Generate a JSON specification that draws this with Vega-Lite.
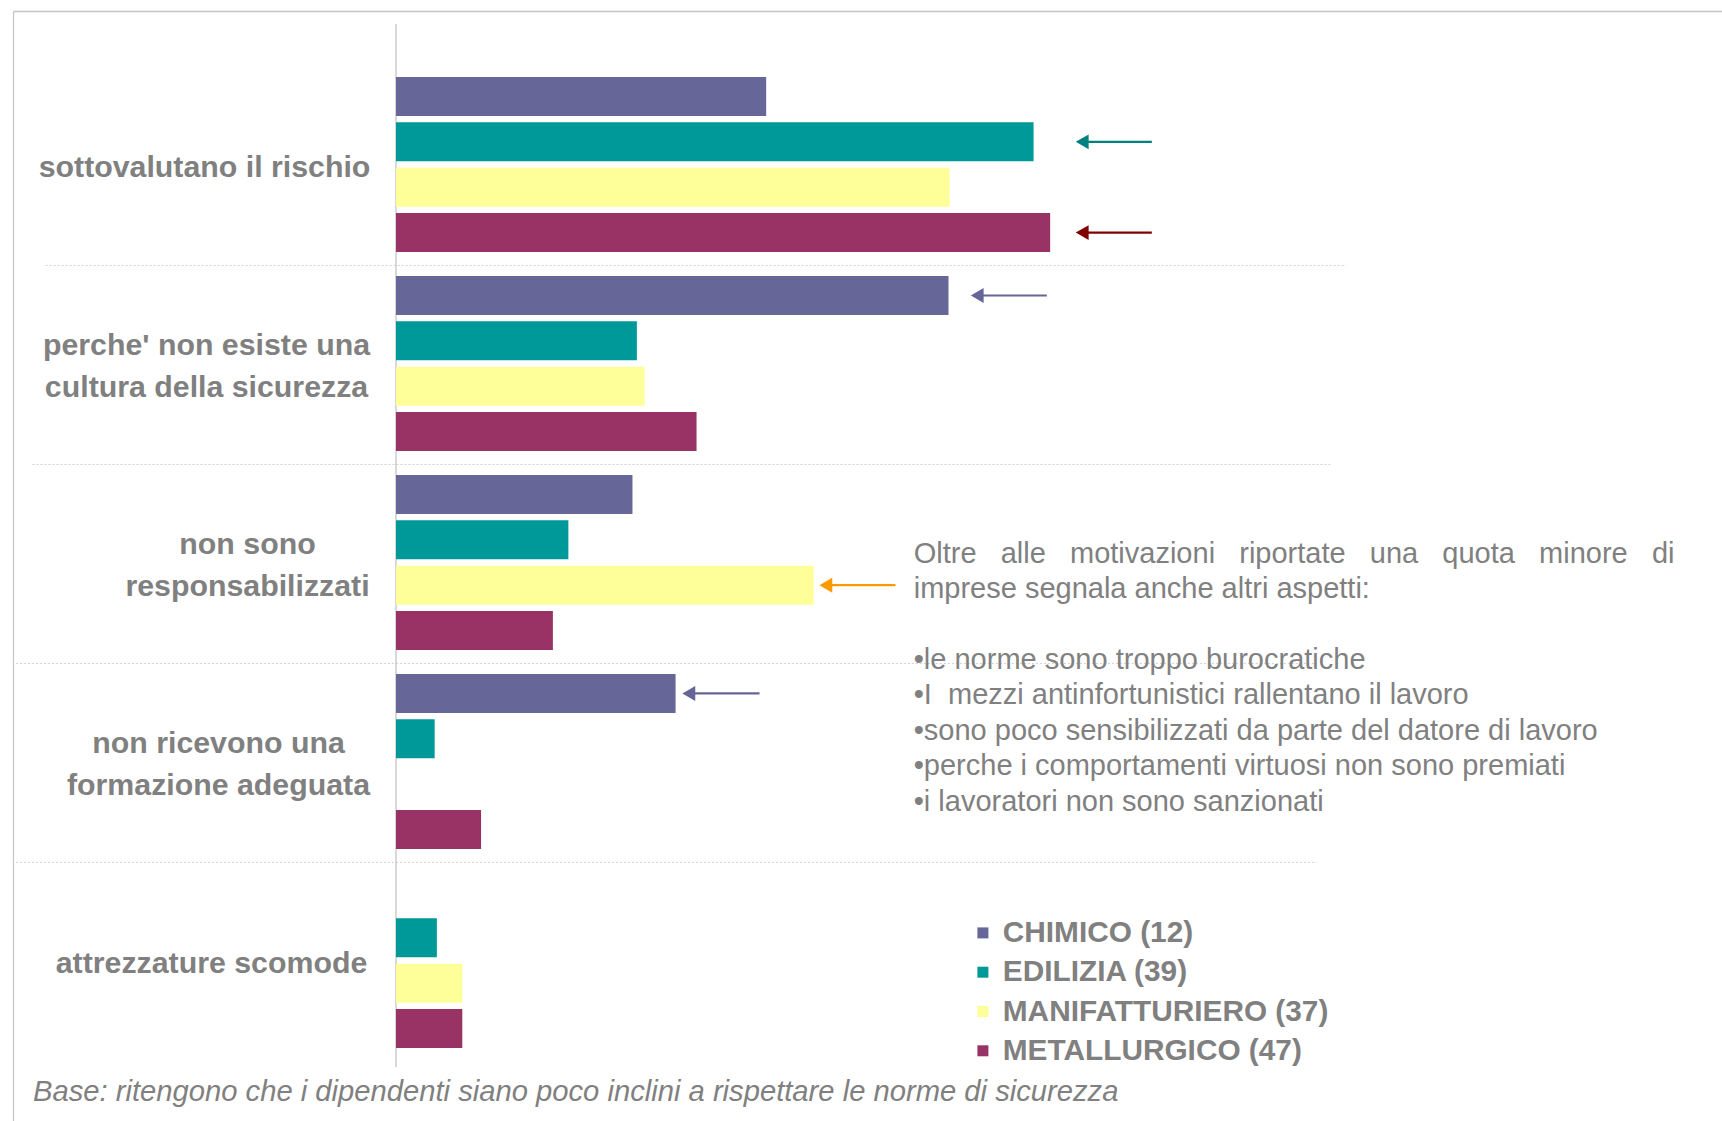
{
  "$schema": "https://vega.github.io/schema/vega-lite/v6.json",
  "width": 1709,
  "height": 1110,
  "autosize": {"type": "none"},
  "padding": {"left": 13, "top": 11, "right": 0, "bottom": 0},
  "background": "white",
  "config": {
    "view": {"stroke": null},
    "font": "Liberation Sans",
    "axisX": {"labels": false, "ticks": false, "grid": false, "domain": true, "domainColor": "#c4c4c4", "domainWidth": 1.5},
    "axisY": {"ticks": false, "tickSize": 0, "grid": false, "domain": true, "domainColor": "#c4c4c4", "domainWidth": 1.2,
      "labelFont": "Liberation Sans", "labelFontSize": 30.3, "labelFontWeight": "bold", "labelColor": "#808080",
      "labelLimit": 600, "labelLineHeight": 42, "labelAlign": "center", "labelBaseline": "middle"}
  },
  "datasets": {
    "barre": [
      {"motivo": "sottovalutano il rischio", "settore": "CHIMICO (12)", "valore": 33.5},
      {"motivo": "sottovalutano il rischio", "settore": "EDILIZIA (39)", "valore": 57.7},
      {"motivo": "sottovalutano il rischio", "settore": "MANIFATTURIERO (37)", "valore": 50.1},
      {"motivo": "sottovalutano il rischio", "settore": "METALLURGICO (47)", "valore": 59.2},
      {"motivo": "perche' non esiste una\ncultura della sicurezza", "settore": "CHIMICO (12)", "valore": 50.0},
      {"motivo": "perche' non esiste una\ncultura della sicurezza", "settore": "EDILIZIA (39)", "valore": 21.8},
      {"motivo": "perche' non esiste una\ncultura della sicurezza", "settore": "MANIFATTURIERO (37)", "valore": 22.5},
      {"motivo": "perche' non esiste una\ncultura della sicurezza", "settore": "METALLURGICO (47)", "valore": 27.2},
      {"motivo": "non sono\nresponsabilizzati", "settore": "CHIMICO (12)", "valore": 21.4},
      {"motivo": "non sono\nresponsabilizzati", "settore": "EDILIZIA (39)", "valore": 15.6},
      {"motivo": "non sono\nresponsabilizzati", "settore": "MANIFATTURIERO (37)", "valore": 37.8},
      {"motivo": "non sono\nresponsabilizzati", "settore": "METALLURGICO (47)", "valore": 14.2},
      {"motivo": "non ricevono una\nformazione adeguata", "settore": "CHIMICO (12)", "valore": 25.3},
      {"motivo": "non ricevono una\nformazione adeguata", "settore": "EDILIZIA (39)", "valore": 3.5},
      {"motivo": "non ricevono una\nformazione adeguata", "settore": "METALLURGICO (47)", "valore": 7.7},
      {"motivo": "attrezzature scomode", "settore": "EDILIZIA (39)", "valore": 3.7},
      {"motivo": "attrezzature scomode", "settore": "MANIFATTURIERO (37)", "valore": 6.0},
      {"motivo": "attrezzature scomode", "settore": "METALLURGICO (47)", "valore": 6.0}
    ],
    "separatori": [
      {"motivo": "perche' non esiste una\ncultura della sicurezza", "da": -31.7, "a": 86.0},
      {"motivo": "non sono\nresponsabilizzati", "da": -32.9, "a": 84.6},
      {"motivo": "non ricevono una\nformazione adeguata", "da": -34.4, "a": 83.3},
      {"motivo": "attrezzature scomode", "da": -34.4, "a": 83.3}
    ],
    "frecce": [
      {"motivo": "sottovalutano il rischio", "settore": "EDILIZIA (39)", "punta": 62.1, "coda": 68.4},
      {"motivo": "sottovalutano il rischio", "settore": "METALLURGICO (47)", "punta": 62.1, "coda": 68.4},
      {"motivo": "perche' non esiste una\ncultura della sicurezza", "settore": "CHIMICO (12)", "punta": 52.6, "coda": 58.9},
      {"motivo": "non sono\nresponsabilizzati", "settore": "MANIFATTURIERO (37)", "punta": 38.9, "coda": 45.2},
      {"motivo": "non ricevono una\nformazione adeguata", "settore": "CHIMICO (12)", "punta": 26.5, "coda": 32.9}
    ],
    "intro": [
      {"testo": "Oltre \u00a0\u00a0alle \u00a0\u00a0motivazioni \u00a0\u00a0riportate \u00a0\u00a0una \u00a0\u00a0quota \u00a0\u00a0minore \u00a0\u00a0di\nimprese segnala anche altri aspetti:"}
    ],
    "elenco": [
      {"testo": "•le norme sono troppo burocratiche\n•I\u00a0 mezzi antinfortunistici rallentano il lavoro\n•sono poco sensibilizzati da parte del datore di lavoro\n•perche i comportamenti virtuosi non sono premiati\n•i lavoratori non sono sanzionati"}
    ],
    "base": [
      {"testo": "Base: ritengono che i dipendenti siano poco inclini a rispettare le norme di sicurezza"}
    ]
  },
  "layer": [
    {
      "data": {"name": "separatori"},
      "mark": {"type": "rule", "color": "#d2d2d2", "strokeWidth": 1, "strokeDash": [2, 2]},
      "encoding": {
        "y": {"field": "motivo", "type": "nominal", "bandPosition": -0.06, "title": null},
        "x": {"field": "da", "type": "quantitative", "title": null},
        "x2": {"field": "a"}
      }
    },
    {
      "data": {"values": [{}]},
      "mark": {"type": "rule", "color": "#bfbfbf", "strokeWidth": 1.2},
      "encoding": {
        "x": {"datum": 0, "type": "quantitative", "title": null},
        "y": {"datum": "sottovalutano il rischio", "type": "nominal", "bandPosition": -0.303, "title": null},
        "y2": {"datum": "attrezzature scomode", "bandPosition": 1.109}
      }
    },
    {
      "data": {"name": "barre"},
      "mark": {"type": "bar", "opacity": 1},
      "encoding": {
        "y": {
          "field": "motivo", "type": "nominal", "title": null,
          "scale": {
            "domain": ["sottovalutano il rischio", "perche' non esiste una\ncultura della sicurezza", "non sono\nresponsabilizzati", "non ricevono una\nformazione adeguata", "attrezzature scomode"],
            "paddingInner": 0.12, "paddingOuter": 0.349, "align": 0.475
          },
          "axis": {
            "orient": "left",
            "labelExpr": "split(datum.label, '\\n')",
            "labelOffset": {"expr": "(datum.value == 'sottovalutano il rischio' || datum.value == 'attrezzature scomode') ? 3 : -18"},
            "labelPadding": {"expr": "datum.value == 'non sono\\nresponsabilizzati' ? -234 : datum.value == 'non ricevono una\\nformazione adeguata' ? -205 : datum.value == 'attrezzature scomode' ? -198 : datum.value == 'sottovalutano il rischio' ? -191 : -193"}
          }
        },
        "yOffset": {
          "field": "settore", "type": "nominal",
          "scale": {"domain": ["CHIMICO (12)", "EDILIZIA (39)", "MANIFATTURIERO (37)", "METALLURGICO (47)"], "paddingInner": 0.14, "paddingOuter": 0}
        },
        "x": {
          "field": "valore", "type": "quantitative", "title": null,
          "scale": {"domain": [-34.66, 120], "nice": false, "zero": false},
          "axis": {"orient": "top"}
        },
        "color": {
          "field": "settore", "type": "nominal",
          "scale": {"domain": ["CHIMICO (12)", "EDILIZIA (39)", "MANIFATTURIERO (37)", "METALLURGICO (47)"], "range": ["#666699", "#009999", "#FFFF99", "#993366"]},
          "legend": {
            "title": null, "orient": "none", "legendX": 955, "legendY": 907, "padding": 0,
            "symbolType": "square", "symbolSize": 121, "symbolStrokeWidth": 0, "symbolOpacity": 1,
            "labelFont": "Liberation Sans", "labelFontSize": 29.8, "labelFontWeight": "bold", "labelColor": "#808080",
            "labelOffset": 5, "rowPadding": 8.3, "labelLimit": 600
          }
        }
      }
    },
    {
      "data": {"name": "frecce"},
      "mark": {"type": "rule", "strokeWidth": 2.2},
      "encoding": {
        "y": {"field": "motivo", "type": "nominal", "title": null},
        "yOffset": {"field": "settore", "type": "nominal"},
        "x": {"field": "punta", "type": "quantitative", "title": null},
        "x2": {"field": "coda"},
        "color": {
          "field": "settore", "type": "nominal", "legend": null,
          "scale": {"domain": ["CHIMICO (12)", "EDILIZIA (39)", "MANIFATTURIERO (37)", "METALLURGICO (47)"], "range": ["#666699", "#008080", "#FF9900", "#800000"]}
        }
      }
    },
    {
      "data": {"name": "frecce"},
      "mark": {"type": "point", "shape": "triangle-left", "filled": true, "size": 220, "opacity": 1, "strokeWidth": 0},
      "encoding": {
        "y": {"field": "motivo", "type": "nominal", "title": null},
        "yOffset": {"field": "settore", "type": "nominal"},
        "x": {"field": "punta", "type": "quantitative", "title": null},
        "color": {
          "field": "settore", "type": "nominal", "legend": null,
          "scale": {"domain": ["CHIMICO (12)", "EDILIZIA (39)", "MANIFATTURIERO (37)", "METALLURGICO (47)"], "range": ["#666699", "#008080", "#FF9900", "#800000"]}
        }
      }
    },
    {
      "data": {"name": "intro"},
      "mark": {"type": "text", "align": "left", "baseline": "alphabetic", "lineBreak": "\n", "lineHeight": 35.5, "fontSize": 29, "font": "Liberation Sans", "color": "#808080", "dy": 0},
      "encoding": {
        "text": {"field": "testo"},
        "x": {"datum": 46.85, "type": "quantitative", "title": null},
        "y": {"datum": "non sono\nresponsabilizzati", "type": "nominal", "title": null}
      }
    },
    {
      "data": {"name": "elenco"},
      "mark": {"type": "text", "align": "left", "baseline": "alphabetic", "lineBreak": "\n", "lineHeight": 35.5, "fontSize": 29, "font": "Liberation Sans", "color": "#808080", "dy": 106},
      "encoding": {
        "text": {"field": "testo"},
        "x": {"datum": 46.85, "type": "quantitative", "title": null},
        "y": {"datum": "non sono\nresponsabilizzati", "type": "nominal", "title": null}
      }
    },
    {
      "data": {"name": "base"},
      "mark": {"type": "text", "align": "left", "baseline": "alphabetic", "fontSize": 29.2, "font": "Liberation Sans", "fontStyle": "italic", "color": "#808080"},
      "encoding": {
        "text": {"field": "testo"},
        "x": {"datum": -32.85, "type": "quantitative", "title": null},
        "y": {"datum": "attrezzature scomode", "type": "nominal", "bandPosition": 1.3, "title": null}
      }
    }
  ],
  "resolve": {"scale": {"color": "independent"}}
}
